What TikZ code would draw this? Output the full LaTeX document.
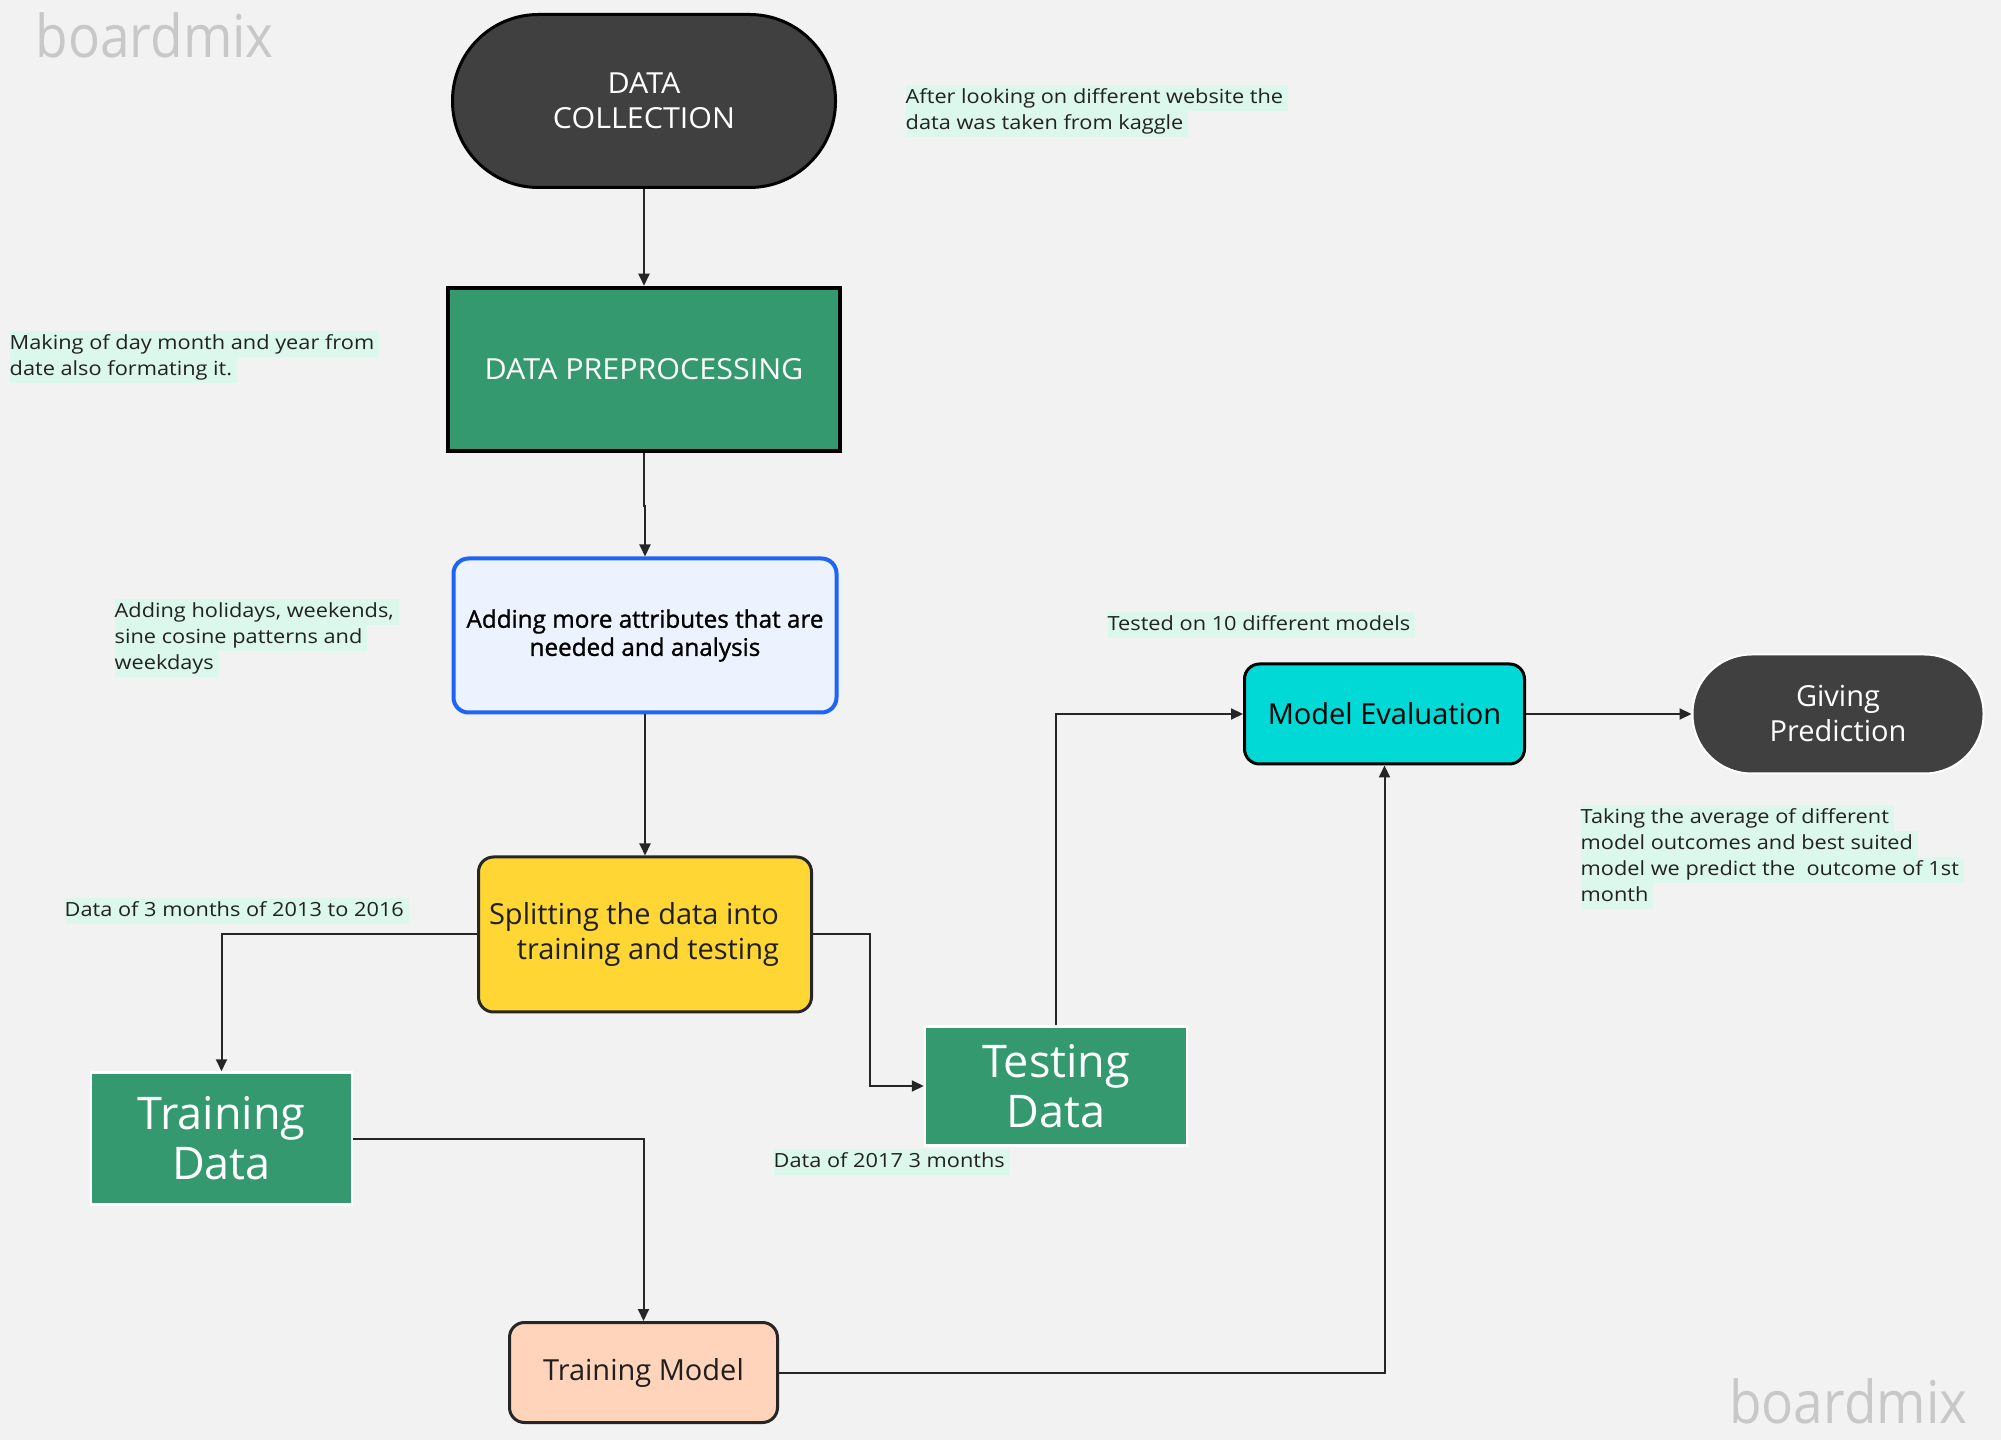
\documentclass[tikz,border=0pt]{standalone}
\usepackage{fontspec}
\setmainfont{Open Sans}
\newfontfamily\semibd{Open Sans}[FakeBold=1.2]
\newfontfamily\notefont{Open Sans}[FakeStretch=1.115]
\newfontfamily\capsfont{Open Sans}[FakeStretch=1.05]
\newfontfamily\markfont{Open Sans}[FakeStretch=0.9]
\usetikzlibrary{arrows.meta}

\definecolor{bgc}{HTML}{F2F2F2}
\definecolor{darkc}{HTML}{404040}
\definecolor{greenc}{HTML}{34996E}
\definecolor{attrfill}{HTML}{EDF3FE}
\definecolor{attrline}{HTML}{1E64F5}
\definecolor{yellowc}{HTML}{FFD634}
\definecolor{peachc}{HTML}{FFD4BB}
\definecolor{cyanc}{HTML}{00D9D6}
\definecolor{hlc}{HTML}{DCF7EC}
\definecolor{inkc}{HTML}{1F1F1F}
\definecolor{notec}{HTML}{222222}
\definecolor{linec}{HTML}{262626}
\definecolor{markc}{HTML}{C8C8C8}

% highlighted note line
\newcommand{\hl}[1]{{\setlength{\fboxsep}{0pt}\colorbox{hlc}{\rule[-2.1pt]{0pt}{7.4pt}#1\hspace*{0.5mm}}}}

\tikzset{
  conn/.style={draw=linec, line width=0.2mm, -{Triangle[length=1.2mm,width=1.1mm]}},
  basebox/.style={inner sep=0pt, align=center, font=\fontsize{8.25pt}{9.96pt}\selectfont},
  terminal/.style={basebox, fill=darkc, text=white, rounded corners=#1},
  greenbox/.style={basebox, fill=greenc, text=white},
  bigtext/.style={font=\fontsize{12.8pt}{14.3pt}\selectfont},
  capstext/.style={font=\capsfont\fontsize{8.25pt}{9.96pt}\selectfont},
  roundbox/.style={basebox, rounded corners=1.5mm, draw=linec, line width=0.3mm, text=inkc},
  note/.style={anchor=north west, inner sep=0pt, align=left, text=notec,
    font=\notefont\fontsize{5.55pt}{7.4pt}\selectfont},
  watermark/.style={inner sep=0pt, text=markc, font=\markfont\fontsize{16.8pt}{18pt}\selectfont}
}

\begin{document}
\begin{tikzpicture}[x=0.1mm, y=-0.1mm]
\fill[bgc] (0,0) rectangle (2001,1440);
\useasboundingbox (0,0) rectangle (2001,1440);

% watermarks
\node[watermark, anchor=base west] (wm1) at (35,58) {boardmix};
\node[watermark, anchor=base east] (wm2) at (1968,1423) {boardmix};

% process nodes
\node[terminal=8.6mm, capstext, draw=black, line width=0.3mm, minimum width=38.3mm, minimum height=17.3mm]
  (dc) at (644,101) {DATA\\COLLECTION};
\node[greenbox, capstext, draw=black, line width=0.45mm, minimum width=39.2mm, minimum height=16.3mm]
  (dp) at (644,369.5) {DATA PREPROCESSING};
\node[basebox, fill=attrfill, draw=attrline, line width=0.4mm, rounded corners=1.5mm,
  minimum width=38.3mm, minimum height=15.4mm, text=black,
  font=\semibd\fontsize{6.9pt}{8pt}\selectfont]
  (attr) at (645,635.5) {Adding more attributes that are\\needed and analysis};
\node[roundbox, fill=yellowc, minimum width=33.3mm, minimum height=15.5mm, align=right]
  (split) at (645,934.5) {Splitting the data into\hspace*{2.2mm}\\training and testing\hspace*{2.2mm}};
\node[greenbox, bigtext, draw=white, line width=0.25mm, minimum width=26.1mm, minimum height=13.2mm]
  (train) at (221.5,1138.5) {Training\\Data};
\node[greenbox, bigtext, draw=white, line width=0.25mm, minimum width=26.2mm, minimum height=11.9mm]
  (test) at (1056,1086) {Testing\\Data};
\node[roundbox, fill=peachc, minimum width=26.8mm, minimum height=10mm]
  (model) at (643.5,1372.5) {Training Model};
\node[roundbox, fill=cyanc, draw=black, minimum width=28mm, minimum height=10mm, text=black]
  (eval) at (1384.5,714) {Model Evaluation};
\node[terminal=5.9mm, draw=white, line width=0.2mm, minimum width=29.1mm, minimum height=11.9mm]
  (pred) at (1838,714) {Giving\\Prediction};

% connectors
\draw[conn] (dc) -- (dp);
\draw[conn] (dp.south) -- ++(0,53) -| (attr.north);
\draw[conn] (attr) -- (split);
\draw[conn] (split.west) -| (train.north);
\draw[conn] (split.east) -- ++(57,0) |- (test.west);
\draw[conn] (train.east) -| (model.north);
\draw[conn] (test.north) |- (eval.west);
\draw[conn] (model.east) -| (eval.south);
\draw[conn] (eval) -- (pred);

% notes
\node[note] (n1) at (905,84) {\hl{After looking on different website the}\\\hl{data was taken from kaggle}};
\node[note] (n2) at (9,330) {\hl{Making of day month and year from}\\\hl{date also formating it.}};
\node[note] (n3) at (114,598) {\hl{Adding holidays, weekends,}\\\hl{sine cosine patterns and}\\\hl{weekdays}};
\node[note] (n4) at (1107,611) {\hl{Tested on 10 different models}};
\node[note] (n5) at (1580,804) {\hl{Taking the average of different}\\\hl{model outcomes and best suited}\\\hl{model we predict the\ \ outcome of 1st}\\\hl{month}};
\node[note] (n6) at (64,897) {\hl{Data of 3 months of 2013 to 2016}};
\node[note] (n7) at (773,1148) {\hl{Data of 2017 3 months}};
\end{tikzpicture}
\end{document}
